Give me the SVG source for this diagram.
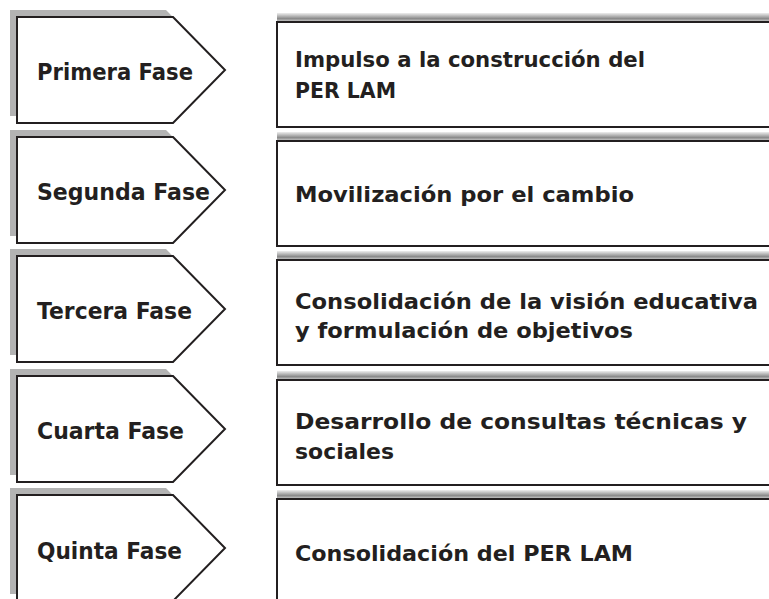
<svg xmlns="http://www.w3.org/2000/svg" width="769" height="599" viewBox="0 0 769 599">
<defs>
<linearGradient id="sh" x1="0" y1="0" x2="0" y2="1">
<stop offset="0" stop-color="#eeeeee"/>
<stop offset="0.7" stop-color="#8a8a8a"/>
<stop offset="1" stop-color="#c0c0c0"/>
</linearGradient>
<polygon id="pent" points="17,0 173,0 225,53 173,106 17,106"/>
</defs>
<style>
.shadow{fill:#b3b3b3}
.pent{fill:#fff;stroke:#231f20;stroke-width:2}
.box{fill:#fff;stroke:#231f20;stroke-width:2}
.bsh{fill:url(#sh)}
.lbl{font-family:"DejaVu Sans","Liberation Sans",sans-serif;font-weight:bold;font-size:22.5px;fill:#231f20}
.txt{font-family:"DejaVu Sans","Liberation Sans",sans-serif;font-weight:bold;font-size:22px;fill:#231f20}
.tah{font-family:"DejaVu Sans","Liberation Sans",sans-serif;font-weight:bold;font-size:21px;fill:#231f20}
</style>
<rect width="769" height="599" fill="#fff"/>

<g id="fase1">
<use href="#pent" class="shadow" transform="translate(-7,10)"/>
<use href="#pent" class="pent" transform="translate(0,17)"/>
<text class="lbl" x="37" y="79.5" textLength="156" lengthAdjust="spacingAndGlyphs">Primera Fase</text>
</g>
<g id="box1">
<rect class="bsh" x="277" y="13" width="500" height="8"/>
<rect class="box" x="277" y="22" width="510" height="105"/>
<text class="tah" x="295" y="66.5" textLength="350" lengthAdjust="spacingAndGlyphs">Impulso a la construcción del</text>
<text class="tah" x="295" y="97.5" textLength="101" lengthAdjust="spacingAndGlyphs">PER LAM</text>
</g>

<g id="fase2">
<use href="#pent" class="shadow" transform="translate(-7,130)"/>
<use href="#pent" class="pent" transform="translate(0,137)"/>
<text class="lbl" x="37" y="199.5" textLength="173" lengthAdjust="spacingAndGlyphs">Segunda Fase</text>
</g>
<g id="box2">
<rect class="bsh" x="277" y="132" width="500" height="8"/>
<rect class="box" x="277" y="141" width="510" height="105"/>
<text class="txt" x="295" y="201.5" textLength="339" lengthAdjust="spacingAndGlyphs">Movilización por el cambio</text>
</g>

<g id="fase3">
<use href="#pent" class="shadow" transform="translate(-7,249)"/>
<use href="#pent" class="pent" transform="translate(0,256)"/>
<text class="lbl" x="37" y="318.5" textLength="155" lengthAdjust="spacingAndGlyphs">Tercera Fase</text>
</g>
<g id="box3">
<rect class="bsh" x="277" y="251" width="500" height="8"/>
<rect class="box" x="277" y="260" width="510" height="105"/>
<text class="txt" x="295" y="308.5" textLength="463" lengthAdjust="spacingAndGlyphs">Consolidación de la visión educativa</text>
<text class="txt" x="295" y="337.5" textLength="338" lengthAdjust="spacingAndGlyphs">y formulación de objetivos</text>
</g>

<g id="fase4">
<use href="#pent" class="shadow" transform="translate(-7,369)"/>
<use href="#pent" class="pent" transform="translate(0,376)"/>
<text class="lbl" x="37" y="438.5" textLength="147" lengthAdjust="spacingAndGlyphs">Cuarta Fase</text>
</g>
<g id="box4">
<rect class="bsh" x="277" y="371" width="500" height="8"/>
<rect class="box" x="277" y="380" width="510" height="105"/>
<text class="txt" x="295" y="428.5" textLength="452" lengthAdjust="spacingAndGlyphs">Desarrollo de consultas técnicas y</text>
<text class="txt" x="295" y="458.5" textLength="99" lengthAdjust="spacingAndGlyphs">sociales</text>
</g>

<g id="fase5">
<use href="#pent" class="shadow" transform="translate(-7,488)"/>
<use href="#pent" class="pent" transform="translate(0,495)"/>
<text class="lbl" x="37" y="558.5" textLength="145" lengthAdjust="spacingAndGlyphs">Quinta Fase</text>
</g>
<g id="box5">
<rect class="bsh" x="277" y="490" width="500" height="8"/>
<rect class="box" x="277" y="499" width="510" height="105"/>
<text class="txt" x="295" y="560.5" textLength="338" lengthAdjust="spacingAndGlyphs">Consolidación del PER LAM</text>
</g>

<g id="connectors"/>
</svg>
